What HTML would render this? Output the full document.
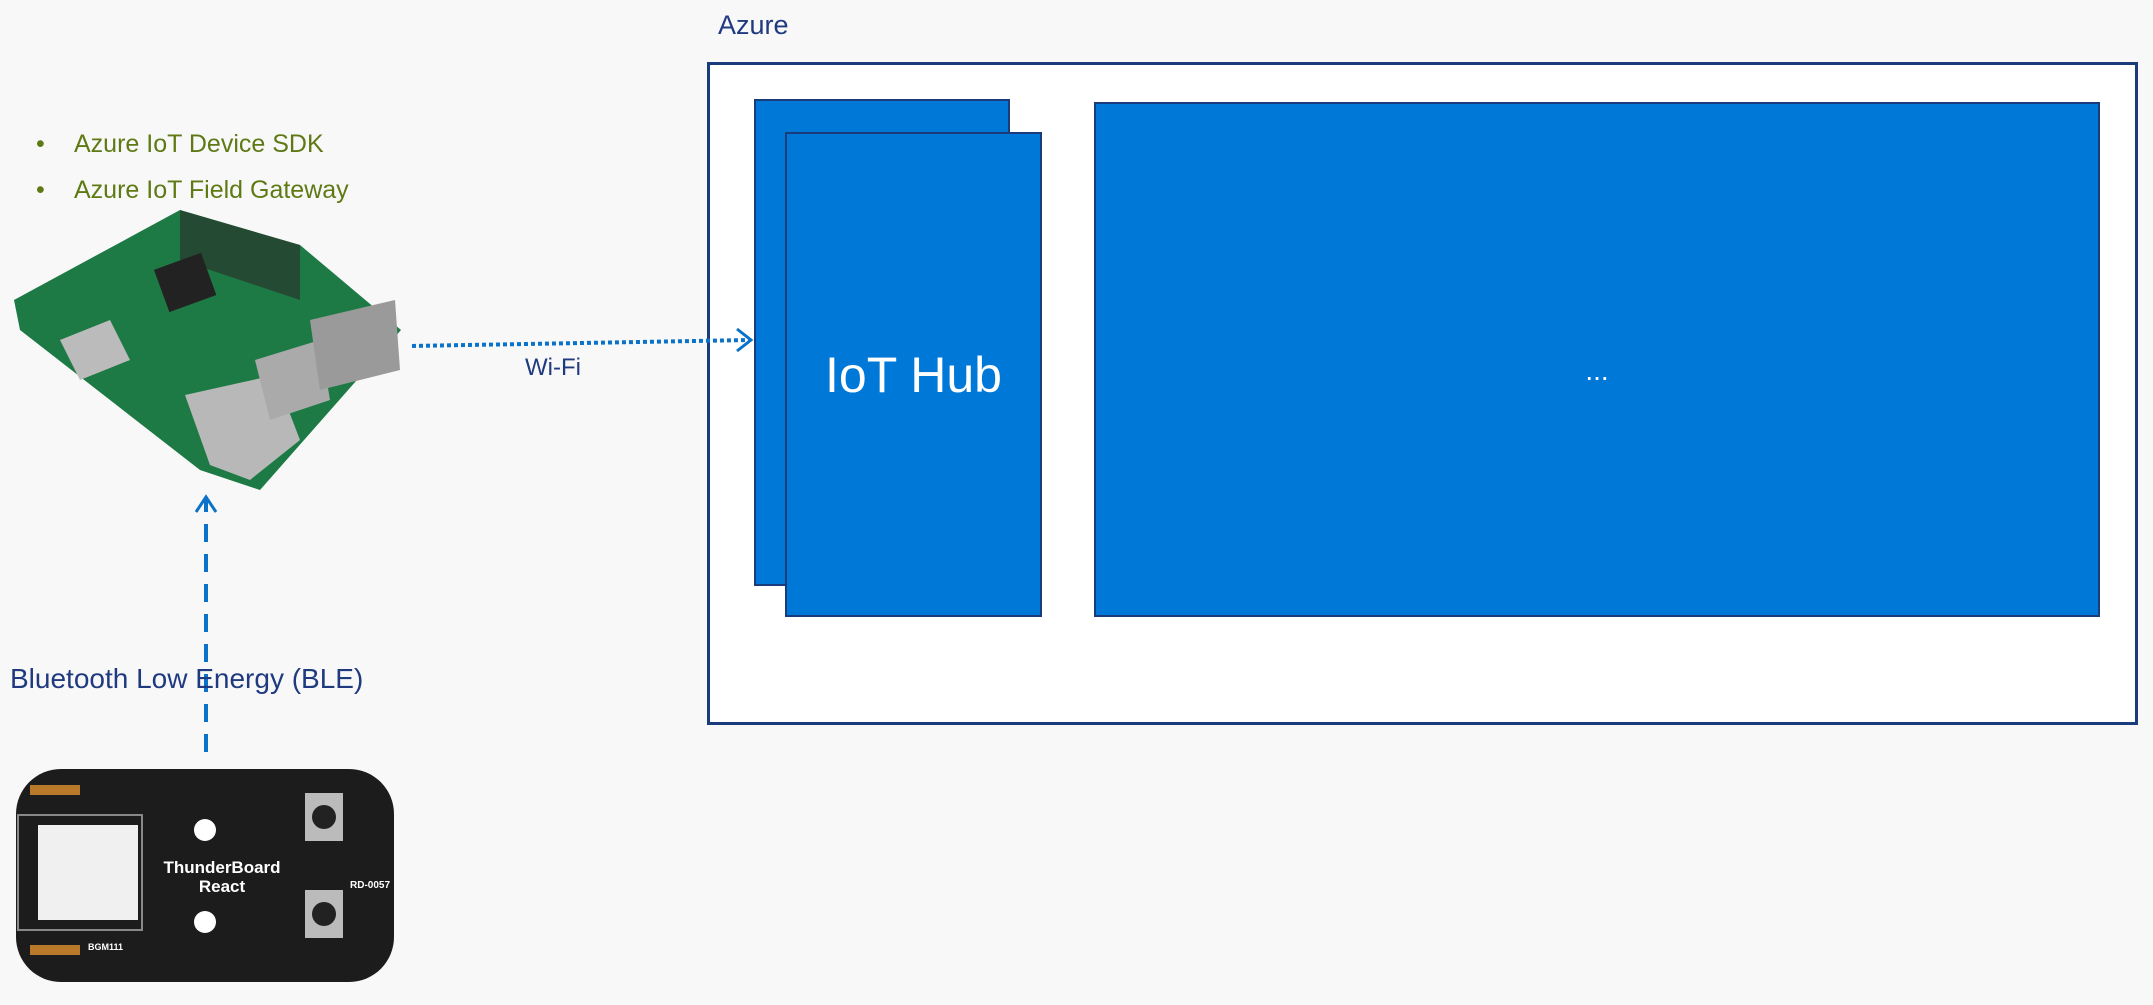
<!DOCTYPE html>
<html><head><meta charset="utf-8"><style>
body{margin:0;width:2153px;height:1005px;background:#f8f8f8;position:relative;overflow:hidden;font-family:"Liberation Sans",sans-serif}
.a{position:absolute}
.blue{background:#0078d7;border:2px solid #1b3c7a;box-sizing:border-box}
</style></head><body>
<div class="a" style="left:718px;top:10px;font-size:27px;color:#203a80">Azure</div>
<div class="a" style="left:707px;top:62px;width:1431px;height:663px;border:3px solid #1b3c7a;box-sizing:border-box;background:#fff"></div>
<div class="a blue" style="left:754px;top:99px;width:256px;height:487px"></div>
<div class="a blue" style="left:785px;top:132px;width:257px;height:485px"></div>
<div class="a" style="left:785px;top:346px;width:257px;text-align:center;font-size:50px;color:#fff">IoT Hub</div>
<div class="a blue" style="left:1094px;top:102px;width:1006px;height:515px"></div>
<div class="a" style="left:1094px;top:355px;width:1006px;text-align:center;font-size:28px;color:#fff">...</div>

<div class="a" style="left:36px;top:121px;font-size:25px;color:#5f7a14;line-height:46px">
<div><span style="display:inline-block;width:38px">•</span>Azure IoT Device SDK</div>
<div><span style="display:inline-block;width:38px">•</span>Azure IoT Field Gateway</div>
</div>

<svg class="a" style="left:0;top:0" width="2153" height="1005">
<!-- raspberry pi -->
<polygon points="14,300 180,210 300,245 401,330 260,490 200,470 20,330" fill="#1e7a45"/>
<polygon points="180,210 300,245 300,300 180,260" fill="#2a2a2a" opacity="0.6"/>
<rect x="160" y="260" width="50" height="45" fill="#222" transform="rotate(-20 185 282)"/>
<polygon points="185,395 275,375 300,440 250,480 210,465" fill="#b8b8b8"/>
<polygon points="255,360 320,340 330,400 270,420" fill="#aaa"/>
<polygon points="310,320 395,300 400,370 320,390" fill="#9a9a9a"/>
<polygon points="60,340 110,320 130,360 80,380" fill="#bbb"/>
<!-- wifi -->
<line x1="412" y1="346" x2="750" y2="340" stroke="#0a72c8" stroke-width="4" stroke-dasharray="4,3"/>
<polyline points="737,329 751,340 737,351" fill="none" stroke="#0a72c8" stroke-width="3"/>
<!-- ble -->
<line x1="206" y1="752" x2="206" y2="500" stroke="#0a72c8" stroke-width="4" stroke-dasharray="18,12"/>
<polyline points="196,512 206,497 216,512" fill="none" stroke="#0a72c8" stroke-width="3"/>
<!-- thunderboard -->
<rect x="16" y="769" width="378" height="213" rx="45" fill="#1c1c1c"/>
<rect x="18" y="815" width="124" height="115" fill="none" stroke="#888" stroke-width="2"/>
<rect x="38" y="825" width="100" height="95" fill="#f0f0f0"/>
<circle cx="205" cy="830" r="11" fill="#fff"/>
<circle cx="205" cy="922" r="11" fill="#fff"/>
<rect x="305" y="793" width="38" height="48" fill="#bbb"/><circle cx="324" cy="817" r="12" fill="#222"/>
<rect x="305" y="890" width="38" height="48" fill="#bbb"/><circle cx="324" cy="914" r="12" fill="#222"/>
<g fill="#b87a2a"><rect x="30" y="785" width="50" height="10"/><rect x="30" y="945" width="50" height="10"/></g>
<text x="222" y="873" font-family="Liberation Sans" font-weight="bold" font-size="17" fill="#fff" text-anchor="middle">ThunderBoard</text>
<text x="222" y="892" font-family="Liberation Sans" font-weight="bold" font-size="17" fill="#fff" text-anchor="middle">React</text>
<text x="350" y="888" font-family="Liberation Sans" font-weight="bold" font-size="10" fill="#fff">RD-0057</text>
<text x="88" y="950" font-family="Liberation Sans" font-weight="bold" font-size="9" fill="#fff">BGM111</text>
</svg>
<div class="a" style="left:525px;top:354px;font-size:24px;color:#203a80">Wi-Fi</div>
<div class="a" style="left:10px;top:663px;font-size:28px;color:#203a80">Bluetooth Low Energy (BLE)</div>
</body></html>
